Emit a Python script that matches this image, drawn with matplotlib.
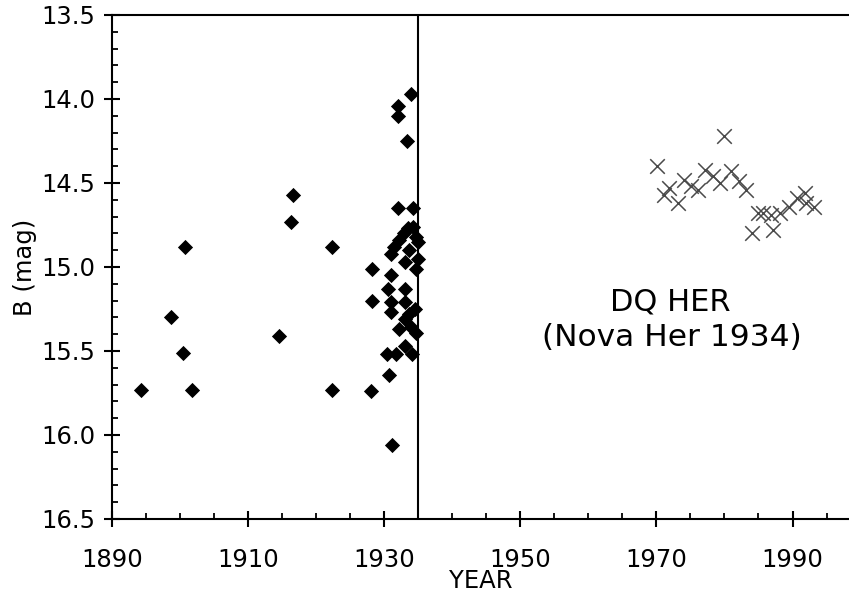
import matplotlib
matplotlib.use("Agg")
import matplotlib.pyplot as plt
from matplotlib.ticker import MultipleLocator

# Historical photographic B magnitudes (diamonds)
hist_year = [1894.3, 1898.7, 1900.7, 1900.5, 1901.7, 1914.6, 1916.6, 1916.3,
             1922.3, 1922.3, 1928.1, 1928.2, 1928.2, 1930.6, 1930.4, 1930.7,
             1931.0, 1931.0, 1931.0, 1931.0, 1931.2, 1931.5, 1931.7,
             1932.0, 1932.0, 1932.0, 1932.2, 1932.2, 1932.9, 1933.0, 1933.1,
             1933.1, 1933.1, 1933.1, 1933.3, 1933.5, 1933.6, 1933.7, 1933.9,
             1934.0, 1934.1, 1934.2, 1934.3, 1934.5, 1934.7, 1934.7, 1934.7,
             1935.0, 1935.0]
hist_mag = [15.73, 15.30, 14.88, 15.51, 15.73, 15.41, 14.57, 14.73,
            14.88, 15.73, 15.74, 15.01, 15.20, 15.13, 15.52, 15.64,
            14.92, 15.05, 15.21, 15.27, 16.06, 14.88, 15.52,
            14.04, 14.10, 14.65, 14.84, 15.37, 14.80, 15.13, 14.97,
            15.21, 15.31, 15.47, 14.25, 14.77, 15.28, 14.90, 15.36,
            13.97, 15.52, 14.76, 14.65, 15.25, 14.82, 15.01, 15.39,
            14.85, 14.95]

# Modern B magnitudes (crosses)
mod_year = [1970.1, 1980.0, 1971.9, 1971.1, 1973.1, 1974.1, 1975.1, 1976.1,
            1977.2, 1978.3, 1979.3, 1981.0, 1982.2, 1983.2, 1984.0, 1984.9,
            1985.6, 1987.1, 1986.8, 1988.2, 1989.5, 1990.7, 1991.9, 1992.0,
            1993.2]
mod_mag = [14.40, 14.22, 14.53, 14.57, 14.62, 14.48, 14.52, 14.54,
           14.42, 14.46, 14.50, 14.43, 14.49, 14.54, 14.80, 14.68,
           14.68, 14.78, 14.69, 14.68, 14.64, 14.59, 14.56, 14.62,
           14.64]

nova_year = 1934.9
x_ticks = [1890, 1910, 1930, 1950, 1970, 1990]
y_ticks = [13.5, 14.0, 14.5, 15.0, 15.5, 16.0, 16.5]

plt.rcParams['font.family'] = ['DejaVu Sans']

fig = plt.figure(figsize=(8.49, 5.99), dpi=100)
ax = fig.add_axes([112/849, 1 - 519/599, 1 - 112/849, (519 - 15)/599])

ax.scatter(hist_year, hist_mag, marker='D', s=60, color='black',
           linewidths=0, zorder=3)
ax.scatter(mod_year, mod_mag, marker='x', s=110, color='#4a4a4a',
           linewidths=1.1, zorder=3)
ax.axvline(nova_year, color='black', lw=1.5, zorder=2)

ax.set_xlim(1890, 1998.3)
ax.set_ylim(16.5, 13.5)
ax.set_xticks(x_ticks)
ax.set_yticks(y_ticks)
ax.set_yticklabels([f"{v:.1f}" for v in y_ticks])
ax.xaxis.set_minor_locator(MultipleLocator(5))
ax.yaxis.set_minor_locator(MultipleLocator(0.1))

ax.tick_params(which='major', direction='inout', length=12, width=1.5,
               labelsize=17.5, colors='black')
ax.tick_params(axis='x', which='major', pad=15)
ax.tick_params(axis='y', which='major', pad=6)
ax.tick_params(which='minor', direction='in', length=4.5, width=1.3)

for s in ['left', 'bottom', 'top']:
    ax.spines[s].set_linewidth(1.5)
ax.spines['right'].set_visible(False)

ax.set_xlabel('YEAR', fontsize=17.5, labelpad=-2)
ax.set_ylabel('B (mag)', fontsize=17.5, labelpad=3)

ax.text(1972.1, 15.21, 'DQ HER', fontsize=22, ha='center', va='center')
ax.text(1972.3, 15.42, '(Nova Her 1934)', fontsize=22.5, ha='center', va='center')

fig.savefig('out.png', dpi=100)
